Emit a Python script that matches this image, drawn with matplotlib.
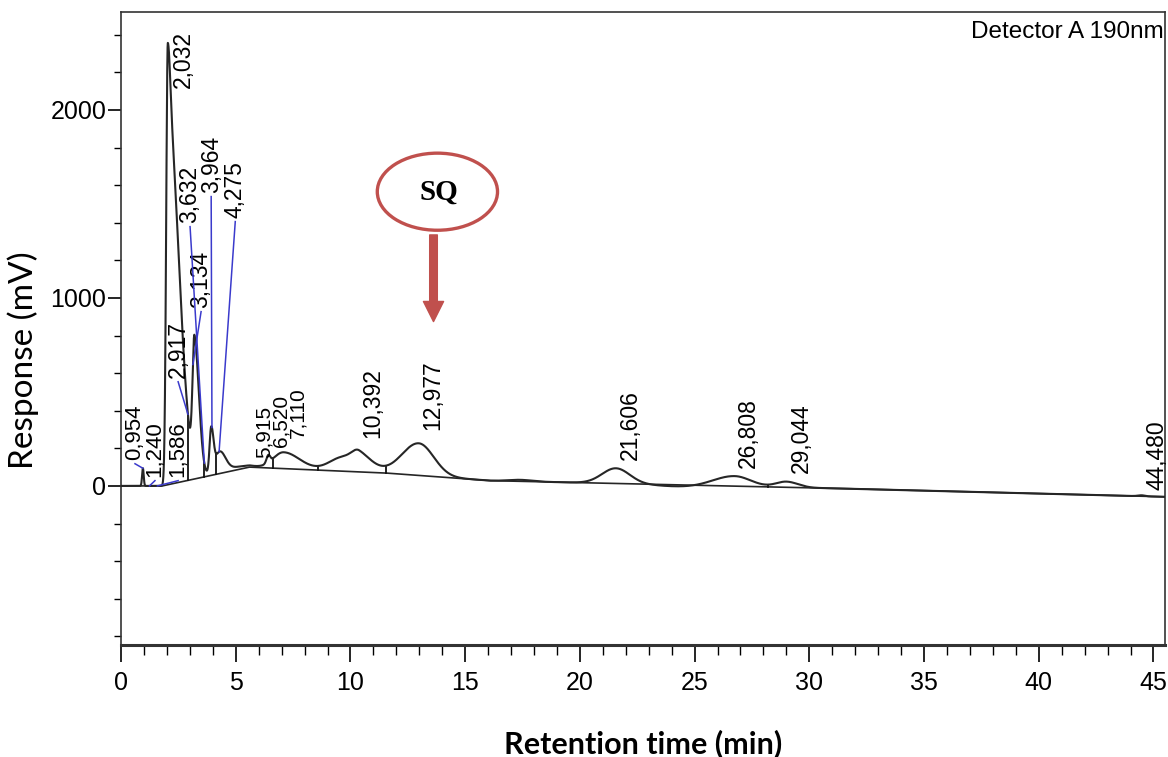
import numpy as np
import matplotlib.pyplot as plt
from matplotlib.patches import Ellipse

# integration baseline drawn by the software (min, mV)
base_t = [0, 1.8, 5.6, 11.6, 16.1, 31.8, 45.5]
base_mv = [0, 0, 100, 68, 28, -15, -58]

# peak table: centre (min), height above baseline (mV),
# left / right widths (min)
peak_t = [0.954, 2.04, 2.04, 3.20, 3.93, 4.30, 5.0, 6.42, 7.09, 9.70, 10.38,
          12.98, 17.4, 21.57, 24.4, 26.73, 29.0, 44.48]
peak_h = [94, 350, 2000, 671, 236, 110, 15, 40, 87, 75, 75,
          171, 8, 81, -9, 54, 30, 5]
peak_wl = [0.035, 0.07, 0.07, 0.08, 0.07, 0.2, 0.6, 0.08, 0.45, 0.6, 0.3,
           0.75, 0.5, 0.6, 1.0, 0.9, 0.45, 0.15]
peak_wr = [0.035, 0.1, 0.47, 0.2, 0.1, 0.25, 0.6, 0.08, 0.7, 0.6, 0.6,
           0.65, 0.5, 0.6, 1.0, 0.7, 0.5, 0.15]

# perpendicular drop lines (min)
drop_t = [2.917, 3.632, 4.14, 6.62, 8.6, 11.57, 28.2]

# retention time labels
rt_labels = ['0,954', '1,240', '1,586', '2,032', '2,917', '3,134', '3,632',
             '3,964', '4,275', '5,915', '6,520', '7,110', '10,392', '12,977',
             '21,606', '26,808', '29,044', '44,480']
rt_values = [0.954, 1.240, 1.586, 2.032, 2.917, 3.134, 3.632, 3.964, 4.275,
             5.915, 6.520, 7.110, 10.392, 12.977, 21.606, 26.808, 29.044, 44.480]
# where each label sits (min, mV at its bottom), its size and leader line
label_pos = [(0.61, 138), (1.48, 48), (2.49, 48), (2.71, 2117), (2.49, 574),
             (3.49, 947), (3.01, 1399), (3.93, 1559), (4.98, 1426),
             (6.25, 149), (6.99, 207), (7.73, 255), (10.96, 255), (13.58, 298),
             (22.2, 138), (27.36, 96), (29.65, 69), (45.15, -21)]
label_size = [16, 16, 16, 16.5, 16.5, 16.5, 16.5, 16.5, 16.5,
              15, 15, 15, 16.5, 16.5, 16.5, 16.5, 16.5, 16.5]
leader = [True, True, True, False, True, True, True, True, True,
          False, False, False, False, False, False, False, False, False]

t = np.linspace(0, 45.5, 9101)
baseline = np.interp(t, base_t, base_mv)
signal = baseline.copy()
for c, h, wl, wr in zip(peak_t, peak_h, peak_wl, peak_wr):
    w = np.where(t < c, wl, wr)
    signal += h * np.exp(-0.5 * ((t - c) / w) ** 2)

fig = plt.figure(figsize=(11.68, 7.57), dpi=100)
ax = fig.add_axes([0.1036, 0.148, 0.8938, 0.8362])

ax.plot(t, signal, color='#262626', lw=1.5, zorder=3)
ax.plot(base_t, base_mv, color='#262626', lw=1.2, zorder=2)

for d in drop_t:
    ax.plot([d, d], [np.interp(d, t, baseline), np.interp(d, t, signal)],
            color='#111111', lw=1.3, zorder=2)

for txt, rt, (lx, ly), fs, ld in zip(rt_labels, rt_values, label_pos,
                                     label_size, leader):
    ax.text(lx, ly, txt, rotation=90, ha='center', va='bottom', fontsize=fs,
            family=['Liberation Sans', 'DejaVu Sans'], zorder=4)
    if ld:
        ax.plot([rt, lx], [np.interp(rt, t, signal), ly - 20],
                color='#3a3acc', lw=1.1, zorder=4)

# SQ callout
ax.add_patch(Ellipse((13.79, 1565), 5.24, 410, facecolor='white',
                     edgecolor='#c0504d', lw=2.4, zorder=5))
ax.text(13.84, 1560, 'SQ', ha='center', va='center', fontsize=21,
        fontweight='bold', family='Liberation Serif', zorder=6)
ax.annotate('', xy=(13.62, 874), xytext=(13.62, 1335),
            arrowprops=dict(facecolor='#c0504d', edgecolor='#c0504d',
                            width=5.5, headwidth=14.5, headlength=14.5,
                            shrink=0), zorder=5)

ax.text(0.999, 0.985, 'Detector A 190nm', transform=ax.transAxes,
        ha='right', va='top', fontsize=17.5,
        family=['Liberation Sans', 'DejaVu Sans'])

ax.set_xlim(0, 45.5)
ax.set_ylim(-846, 2521)
ax.set_xticks(np.arange(0, 46, 5))
ax.set_xticks(np.arange(0, 46, 1), minor=True)
ax.set_yticks([0, 1000, 2000])
ax.set_yticks(np.arange(-800, 2500, 200), minor=True)

for lab in ax.get_xticklabels() + ax.get_yticklabels():
    lab.set_family(['Liberation Sans', 'DejaVu Sans'])
    lab.set_fontsize(18)

ax.tick_params(axis='x', which='major', direction='out', length=12, width=1.2, pad=7)
ax.tick_params(axis='x', which='minor', direction='out', length=7, width=1.0)
ax.tick_params(axis='y', which='major', direction='out', length=9.5, width=1.2, pad=1)
ax.tick_params(axis='y', which='minor', direction='out', length=5, width=1.0)

for s in ax.spines.values():
    s.set_linewidth(1.2)
    s.set_color('#333333')
ax.spines['bottom'].set_linewidth(2.2)

ax.set_ylabel('Response (mV)', fontsize=24, family='Lato')
ax.yaxis.set_label_coords(-0.079, 0.45)
ax.set_xlabel('Retention time (min)', fontsize=22, family='Lato',
              fontweight='bold')
ax.xaxis.set_label_coords(0.5, -0.133)

fig.savefig('out.png', dpi=100)
